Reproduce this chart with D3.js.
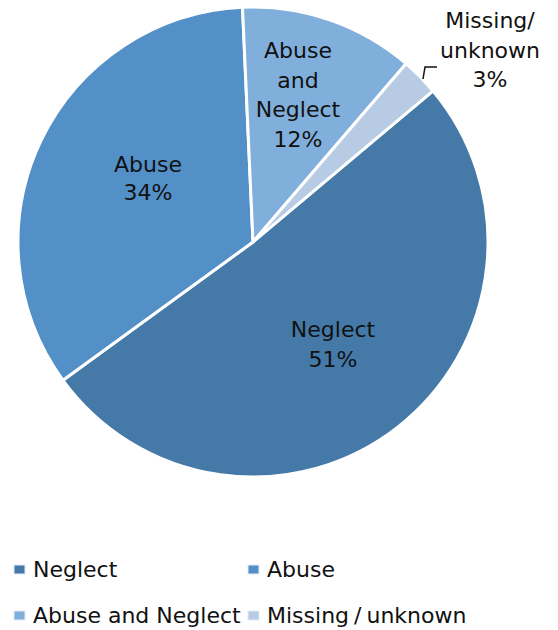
<!DOCTYPE html>
<html>
<head>
<meta charset="utf-8">
<script src="https://cdn.jsdelivr.net/npm/d3@7"></script>
<style>
  body { margin: 0; background: #fff; }
  svg text { font-family: "DejaVu Sans", Verdana, sans-serif; fill: #111; }
</style>
</head>
<body>
<div id="chart"></div>
<script>
// data
const categories = ["Neglect", "Abuse", "Abuse and Neglect", "Missing/unknown"];
const shares = [51.1, 34.3, 12.0, 2.6];
const sliceLabels = [["Neglect", "51%"], ["Abuse", "34%"], ["Abuse", "and", "Neglect", "12%"], ["Missing/", "unknown", "3%"]];
const colors = ["#4579a8", "#5390c8", "#80afdc", "#b7cbe5"];

const width = 558, height = 630;
const cx = 253, cy = 242, radius = 235;

const svg = d3.select("#chart").append("svg")
  .attr("width", width)
  .attr("height", height);

// first slice starts at ~50 degrees, clockwise
const startDeg = 50;
const pie = d3.pie()
  .sort(null)
  .value(d => d)
  .startAngle(startDeg * Math.PI / 180)
  .endAngle((startDeg + 360) * Math.PI / 180);

const arcs = pie(shares);
const arc = d3.arc().innerRadius(0).outerRadius(radius);

const g = svg.append("g").attr("transform", `translate(${cx},${cy})`);

g.selectAll("path")
  .data(arcs)
  .enter().append("path")
  .attr("d", arc)
  .attr("fill", (d, i) => colors[i])
  .attr("stroke", "#fff")
  .attr("stroke-width", 3)
  .attr("stroke-linejoin", "round");

// label anchor points (centre x, first baseline y), relative to page
const labelPos = [[333, 337], [148, 172], [298, 58], [490, 28]];
const lineH = [30, 28, 29.5, 29.5];

sliceLabels.forEach((lines, i) => {
  const t = svg.append("text")
    .attr("text-anchor", "middle")
    .style("font-size", "22px");
  lines.forEach((s, j) => {
    t.append("tspan")
      .attr("x", labelPos[i][0])
      .attr("y", labelPos[i][1] + j * lineH[i])
      .text(s);
  });
});

// leader line for the small slice
const leader = d3.line();
svg.append("path")
  .attr("d", leader([[423, 79], [425, 67], [437, 67]]))
  .attr("fill", "none")
  .attr("stroke", "#111")
  .attr("stroke-width", 1.5);

// legend
const legX = [14, 248], legY = [577, 623];
const legend = svg.append("g");
categories.forEach((c, i) => {
  const x = legX[i % 2], y = legY[Math.floor(i / 2)];
  legend.append("rect")
    .attr("x", x).attr("y", y - 12)
    .attr("width", 11).attr("height", 9)
    .attr("fill", colors[i])
    .attr("stroke", "#e4ecf5")
    .attr("stroke-width", 1);
  const t = legend.append("text")
    .attr("x", x + 19).attr("y", y)
    .style("font-size", "22px");
  // the slash is drawn with a little space either side
  const parts = c.split("/");
  parts.forEach((p, j) => {
    if (j > 0) t.append("tspan").attr("dx", 5).text("/");
    t.append("tspan").attr("dx", j > 0 ? 5 : 0).text(p);
  });
});
</script>
</body>
</html>
